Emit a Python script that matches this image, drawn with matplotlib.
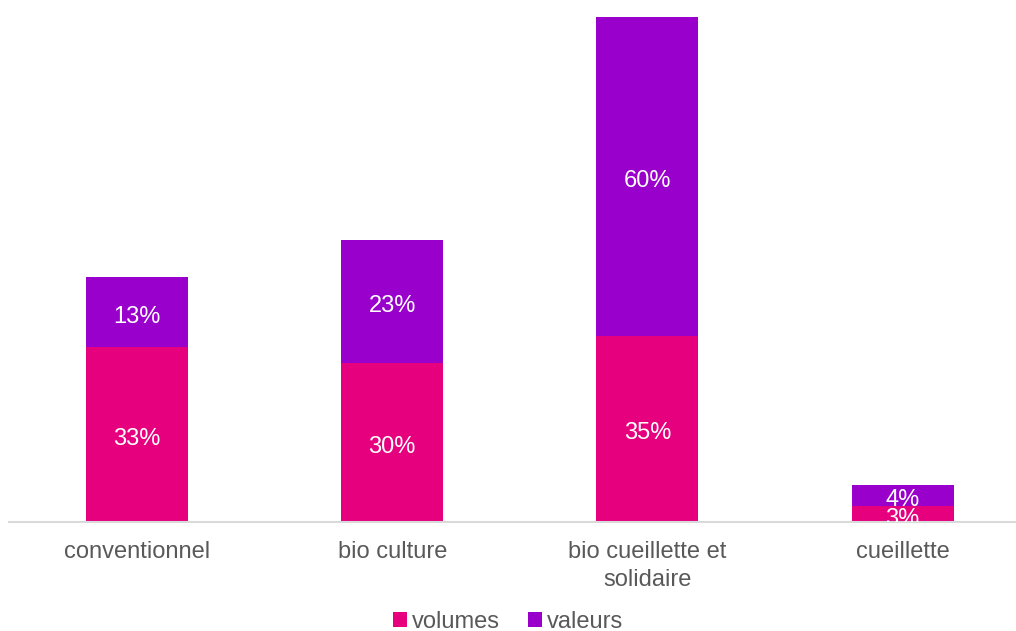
import matplotlib
matplotlib.use("Agg")
import matplotlib.pyplot as plt
import matplotlib.transforms as mtransforms
import numpy as np

categories = ["conventionnel", "bio culture", "bio cueillette et\nsolidaire", "cueillette"]
volumes = [33, 30, 35, 3]
valeurs = [13, 23, 60, 4]
series_names = ["volumes", "valeurs"]
colors = ["#E6007E", "#9900CC"]

plt.rcParams['font.family'] = ['Liberation Sans', 'DejaVu Sans']

W, H = 1016, 631
fig = plt.figure(figsize=(W / 100, H / 100), dpi=100)
unit = 255.2
left_px = 137 - 0.5 * unit
base_px = 522
top_px = 17
ax = fig.add_axes([left_px / W, (H - base_px) / H, 4 * unit / W, (base_px - top_px) / H])

x = np.arange(len(categories))
b1 = ax.bar(x, volumes, width=0.4, color=colors[0], label=series_names[0])
b2 = ax.bar(x, valeurs, width=0.4, bottom=volumes, color=colors[1], label=series_names[1])

fs = 17
shift = mtransforms.offset_copy(ax.transData, fig=fig, x=0, y=-4.5, units="dots")
for i in range(len(categories)):
    ax.text(x[i], volumes[i] / 2, f"{volumes[i]}%", ha="center", va="center",
            color="white", fontsize=fs, clip_on=True, transform=shift)
    ax.text(x[i], volumes[i] + valeurs[i] / 2, f"{valeurs[i]}%", ha="center", va="center",
            color="white", fontsize=fs, clip_on=True, transform=shift)

ax.set_xlim(-0.5, 3.5)
ax.set_ylim(0, 95)
ax.set_yticks([])
for s in ["top", "right", "left"]:
    ax.spines[s].set_visible(False)
ax.spines["bottom"].set_color("#D9D9D9")
ax.spines["bottom"].set_linewidth(1.5)
ax.set_xticks(x)
ax.set_xticklabels(categories, fontsize=fs, color="#595959", linespacing=1.32)
ax.tick_params(axis="x", length=0, pad=14)

leg = fig.legend(handles=[b1, b2], labels=series_names, loc="center",
                 bbox_to_anchor=(0.5, (H - 622) / H), ncol=2, frameon=False,
                 fontsize=fs, handlelength=0.6, handleheight=0.6, handletextpad=0.2,
                 columnspacing=1.2, labelcolor="#595959", borderpad=0.1)

fig.savefig("out.png", dpi=100)
